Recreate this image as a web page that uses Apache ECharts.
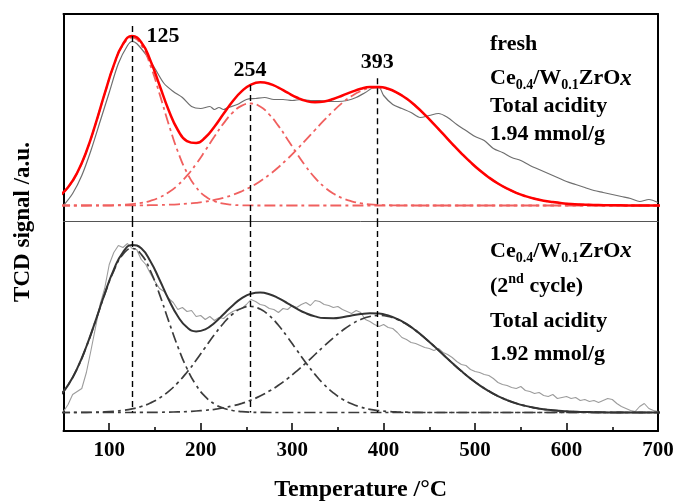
<!DOCTYPE html>
<html>
<head>
<meta charset="utf-8">
<script src="https://cdn.jsdelivr.net/npm/echarts@6/dist/echarts.min.js"></script>
<style>
  html, body { margin: 0; padding: 0; background: #fff; }
  #chart { width: 678px; height: 503px; }
</style>
</head>
<body>
<div id="chart"></div>
<script>
var serif = 'Liberation Serif';

/* fitted curves share one temperature grid (°C) */
var temps = [45, 55, 65, 75, 85, 95, 105, 115, 125, 135, 145, 155, 165, 175, 185, 195, 205, 215, 225,
  235, 245, 255, 265, 275, 285, 295, 305, 315, 325, 335, 345, 355, 365, 375, 385, 395, 405, 415, 425,
  435, 445, 455, 465, 475, 485, 495, 505, 515, 525, 535, 545, 555, 565, 575, 585, 595, 605, 615, 625,
  635, 645, 655, 665, 675, 685, 695, 705];

/* fresh catalyst: fit + three deconvoluted peaks */
var freshFit = [9.2, 18.2, 32.8, 54.0, 81.4, 111.8, 140.4, 161.3, 169.5, 163.3, 145.1, 120.3, 95.3,
  75.5, 64.4, 62.4, 68.0, 78.8, 91.7, 104.2, 114.4, 120.9, 123.2, 121.8, 117.9, 112.8, 108.0, 104.6,
  103.2, 104.0, 106.5, 110.0, 113.6, 116.7, 118.5, 118.6, 116.7, 112.7, 107.0, 99.5, 90.9, 81.4,
  71.6, 61.7, 52.2, 43.3, 35.2, 28.1, 22.0, 16.9, 12.7, 9.4, 6.8, 4.8, 3.4, 2.3, 1.5, 1.0, 0.7, 0.4,
  0.3, 0.2, 0.1, 0.1, 0, 0, 0];
var freshPeak1 = [9.2, 18.2, 32.8, 54.0, 81.3, 111.7, 140.1, 160.5, 168, 160.5, 140.1, 111.7, 81.3,
  54.0, 32.8, 18.2, 9.2, 4.3, 1.8, 0.7, 0.2, 0.1, 0, 0, 0, 0, 0, 0, 0, 0, 0, 0, 0, 0, 0, 0, 0, 0, 0,
  0, 0, 0, 0, 0, 0, 0, 0, 0, 0, 0, 0, 0, 0, 0, 0, 0, 0, 0, 0, 0, 0, 0, 0, 0, 0, 0, 0];
var freshPeak2 = [0, 0, 0, 0, 0.1, 0.1, 0.3, 0.7, 1.4, 2.6, 4.7, 8.1, 13.2, 20.3, 29.8, 41.5, 54.9,
  68.9, 82.1, 92.9, 99.9, 102.0, 98.9, 91.0, 79.6, 66.1, 52.1, 39.0, 27.7, 18.7, 12.0, 7.3, 4.2, 2.3,
  1.2, 0.6, 0.3, 0.1, 0.1, 0, 0, 0, 0, 0, 0, 0, 0, 0, 0, 0, 0, 0, 0, 0, 0, 0, 0, 0, 0, 0, 0, 0, 0, 0,
  0, 0, 0];
var freshPeak3 = [0, 0, 0, 0, 0, 0, 0, 0.1, 0.1, 0.2, 0.3, 0.5, 0.8, 1.2, 1.8, 2.7, 3.9, 5.6, 7.8,
  10.6, 14.3, 18.8, 24.3, 30.8, 38.3, 46.7, 55.9, 65.6, 75.5, 85.3, 94.5, 102.7, 109.4, 114.4, 117.3,
  118.0, 116.4, 112.6, 106.9, 99.5, 90.9, 81.4, 71.6, 61.7, 52.2, 43.3, 35.2, 28.1, 22.0, 16.9, 12.7,
  9.4, 6.8, 4.8, 3.4, 2.3, 1.5, 1.0, 0.7, 0.4, 0.3, 0.2, 0.1, 0.1, 0, 0, 0];

/* 2nd cycle: fit + three deconvoluted peaks */
var cycleFit = [15.8, 27.4, 44.1, 66.0, 91.7, 118.7, 142.9, 160.2, 167.6, 164.2, 151.3, 132.8, 113.0,
  96.2, 85.2, 81.1, 83.1, 89.5, 98.3, 107.1, 114.3, 118.7, 119.9, 118.3, 114.4, 109.2, 103.9, 99.3,
  96.1, 94.4, 94.3, 95.3, 97.0, 98.4, 99.2, 98.9, 97.0, 93.5, 88.6, 82.1, 74.6, 66.5, 58.0, 49.5,
  41.4, 33.9, 27.2, 21.4, 16.4, 12.4, 9.1, 6.6, 4.7, 3.2, 2.2, 1.5, 0.9, 0.6, 0.4, 0.2, 0.1, 0.1, 0,
  0, 0, 0, 0];
var cyclePeak1 = [15.8, 27.4, 44.0, 65.8, 91.4, 118.1, 141.7, 158.1, 164, 158.1, 141.7, 118.1, 91.4,
  65.8, 44.0, 27.4, 15.8, 8.5, 4.3, 2.0, 0.9, 0.3, 0.1, 0, 0, 0, 0, 0, 0, 0, 0, 0, 0, 0, 0, 0, 0, 0,
  0, 0, 0, 0, 0, 0, 0, 0, 0, 0, 0, 0, 0, 0, 0, 0, 0, 0, 0, 0, 0, 0, 0, 0, 0, 0, 0, 0, 0];
var cyclePeak2 = [0, 0, 0.1, 0.2, 0.3, 0.6, 1.2, 2.1, 3.6, 6.0, 9.5, 14.5, 21.2, 29.8, 40.3, 52.2,
  65.1, 77.8, 89.3, 98.5, 104.3, 106.0, 103.4, 96.9, 87.2, 75.3, 62.5, 49.8, 38.1, 27.9, 19.7, 13.3,
  8.7, 5.4, 3.2, 1.9, 1.0, 0.5, 0.3, 0.1, 0, 0, 0, 0, 0, 0, 0, 0, 0, 0, 0, 0, 0, 0, 0, 0, 0, 0, 0, 0,
  0, 0, 0, 0, 0, 0, 0];
var cyclePeak3 = [0, 0, 0, 0, 0, 0, 0, 0, 0, 0.1, 0.1, 0.2, 0.4, 0.6, 0.9, 1.5, 2.2, 3.2, 4.7, 6.6,
  9.1, 12.4, 16.4, 21.4, 27.2, 33.9, 41.4, 49.5, 58.0, 66.5, 74.6, 82.0, 88.3, 93.0, 96.0, 97.0, 96.0,
  93.0, 88.3, 82.0, 74.6, 66.5, 58.0, 49.5, 41.4, 33.9, 27.2, 21.4, 16.4, 12.4, 9.1, 6.6, 4.7, 3.2,
  2.2, 1.5, 0.9, 0.6, 0.4, 0.2, 0.1, 0.1, 0, 0, 0, 0, 0];

/* measured TCD signal, fresh */
var freshRawT = [50, 60, 70, 80, 90, 100, 110, 120, 125, 130, 140, 150, 160, 170, 180, 190, 200, 210,
  215, 220, 225, 230, 240, 250, 260, 270, 280, 290, 300, 310, 320, 330, 340, 350, 360, 370, 380, 390,
  395, 400, 410, 420, 430, 440, 450, 460, 470, 480, 490, 500, 510, 520, 530, 540, 550, 560, 570, 580,
  590, 600, 610, 620, 630, 640, 650, 660, 670, 680, 690, 700];
var freshRaw = [0, 12, 30, 55, 84, 113, 142, 160, 164, 162, 151, 137, 122, 114, 108, 99, 97, 99,
  96, 98, 96, 98, 101, 106, 107, 108, 106, 106, 105, 106, 105, 105, 104, 104, 105, 108, 113, 118,
  118, 110, 101, 97, 93, 88, 90, 92, 88, 81, 75, 69, 65, 57, 53, 48, 45, 40, 36, 32,
  28, 24, 21, 18, 15, 13, 11, 9, 7, 4, 6, 3];

/* measured TCD signal, 2nd cycle */
var cycleRawT = [50, 55, 60, 65, 70, 75, 80, 85, 90, 95, 100, 105, 110, 115, 120, 125, 130, 135, 140,
  145, 150, 155, 160, 165, 170, 175, 180, 185, 190, 195, 200, 205, 210, 215, 220, 225, 230, 235, 240,
  245, 250, 255, 260, 265, 270, 275, 280, 285, 290, 295, 300, 305, 310, 315, 320, 325, 330, 335, 340,
  345, 350, 355, 360, 365, 370, 375, 380, 385, 390, 395, 400, 405, 410, 415, 420, 425, 430, 435, 440,
  445, 450, 455, 460, 465, 470, 475, 480, 485, 490, 495, 500, 505, 510, 515, 520, 525, 530, 535, 540,
  545, 550, 555, 560, 565, 570, 575, 580, 585, 590, 595, 600, 605, 610, 615, 620, 625, 630, 635, 640,
  645, 650, 655, 660, 665, 670, 675, 680, 685, 690, 695, 700];
var cycleRaw = [1, 8, 18, 21, 24, 40, 62, 85, 108, 124,
  148, 160, 167, 165, 169, 164, 163, 153, 148, 139,
  131, 124, 121, 114, 110, 103, 105, 101, 102, 96,
  97, 93, 96, 92, 95, 94, 98, 101, 103, 104,
  108, 113, 111, 108, 107, 104, 103, 100, 104, 103,
  107, 105, 108, 110, 107, 112, 111, 108, 107, 105,
  106, 103, 101, 99, 102, 100, 93, 91, 88, 86,
  88, 85, 84, 80, 75, 73, 70, 69, 67, 65,
  64, 62, 64, 60, 58, 55, 51, 48, 47, 43,
  41, 40, 38, 37, 34, 30, 28, 27, 25, 24,
  26, 22, 21, 19, 20, 17, 16, 18, 14, 15,
  16, 14, 15, 12, 13, 11, 12, 10, 12, 14,
  13, 9, 6, 4, 2, 1, 6, 9, 4, 2,
  1];

var majorTicks = [100, 200, 300, 400, 500, 600, 700];
var minorTicks = [150, 250, 350, 450, 550, 650];

/* peak maxima marked by dashed lines */
var peakTemps = [125, 254, 393];
var peakNames = ['125', '254', '393'];
var peakLabelY = [169.5, 135, 143];
var peakLineTop = [179.5, 120.5, 127.2];

var topRange = [-15.5, 191.5];
var botRange = [-18.5, 191.5];

function pairs(xs, ys) {
  return xs.map(function (x, i) { return [x, ys[i]]; });
}

function curve(panel, xs, ys, color, width, dash, smooth) {
  return {
    type: 'line',
    xAxisIndex: panel === 0 ? 0 : 2,
    yAxisIndex: panel === 0 ? 0 : 2,
    data: pairs(xs, ys),
    symbol: 'none',
    smooth: smooth,
    silent: true,
    clip: true,
    lineStyle: { color: color, width: width, type: dash || 'solid' }
  };
}

function peakLines(panel) {
  return {
    silent: true,
    symbol: ['none', 'none'],
    label: { show: false },
    lineStyle: { color: '#000', width: 1.4, type: [6, 4] },
    data: peakTemps.map(function (t, i) {
      var y0 = panel === 0 ? peakLineTop[i] : botRange[1];
      var y1 = panel === 0 ? topRange[0] : 0;
      return [{ coord: [t, y0] }, { coord: [t, y1] }];
    })
  };
}

var dashDot = [11, 4, 3, 4];
var boldFont = { fontFamily: serif, fontWeight: 'bold', color: '#000' };

var freshFitSeries = curve(0, temps, freshFit, '#ff0000', 2.5, null, true);
freshFitSeries.markLine = peakLines(0);
freshFitSeries.markPoint = {
  silent: true,
  symbolSize: 0,
  label: { show: true, formatter: '{b}', fontFamily: serif, fontWeight: 'bold', fontSize: 22, color: '#000' },
  data: peakTemps.map(function (t, i) {
    return { name: peakNames[i], coord: [t, peakLabelY[i]], label: { offset: [i === 0 ? 31 : 0, 0] } };
  })
};
var cycleFitSeries = curve(1, temps, cycleFit, '#333333', 2, null, true);
cycleFitSeries.markLine = peakLines(1);

function hiddenAxis(grid, pos, lineW, lineColor) {
  return {
    type: 'value', gridIndex: grid, position: pos, min: 50, max: 700,
    axisLine: { show: lineW > 0, onZero: false, lineStyle: { color: lineColor, width: lineW } },
    axisTick: { show: false }, axisLabel: { show: false }, splitLine: { show: false }
  };
}
function sideAxis(grid, pos, range, show) {
  return {
    type: 'value', gridIndex: grid, position: pos, min: range[0], max: range[1], show: show,
    axisLine: { show: true, onZero: false, lineStyle: { color: '#000', width: 2 } },
    axisTick: { show: false }, axisLabel: { show: false }, splitLine: { show: false }
  };
}

var m = { fontFamily: serif, fontWeight: 'bold', fontSize: 22, lineHeight: 28, verticalAlign: 'middle', fill: '#000' };
var sub = { fontFamily: serif, fontWeight: 'bold', fontSize: 14, lineHeight: 14, verticalAlign: 'bottom', fill: '#000' };
var sup = { fontFamily: serif, fontWeight: 'bold', fontSize: 14, lineHeight: 14, verticalAlign: 'top', fill: '#000' };
var it = {
  font: 'italic bold 23px "Liberation Serif"', fontFamily: serif, fontWeight: 'bold', fontStyle: 'italic',
  fontSize: 23, lineHeight: 28, verticalAlign: 'middle', fill: '#000'
};
var formula = '{m|Ce}{s|0.4}{m|/W}{s|0.1}{m|ZrO}{i|x}';

function note(y, text) {
  return {
    type: 'text', x: 490, y: y, silent: true,
    style: { text: text, align: 'left', verticalAlign: 'middle', rich: { m: m, s: sub, p: sup, i: it } }
  };
}

var option = {
  animation: false,
  backgroundColor: '#fff',
  grid: [
    { left: 63.5, right: 20, top: 14, height: 207 },
    { left: 63.5, right: 20, top: 221, height: 210 },
    { left: 63.5, right: 20, top: 221, height: 210 }
  ],
  xAxis: [
    hiddenAxis(0, 'top', 2, '#000'),
    hiddenAxis(0, 'bottom', 1, '#555'),
    {
      type: 'value', gridIndex: 1, position: 'bottom', min: 50, max: 700,
      axisLine: { onZero: false, lineStyle: { color: '#000', width: 2 } },
      axisTick: { inside: true, length: 8, customValues: majorTicks, lineStyle: { color: '#000', width: 1.5 } },
      axisLabel: Object.assign({ customValues: majorTicks, margin: 9, fontSize: 21 }, boldFont),
      splitLine: { show: false },
      name: 'Temperature /°C', nameLocation: 'middle', nameGap: 47,
      nameTextStyle: Object.assign({ fontSize: 24 }, boldFont)
    },
    {
      type: 'value', gridIndex: 2, position: 'bottom', min: 50, max: 700,
      axisLine: { show: false, onZero: false },
      axisTick: { inside: true, length: 4, customValues: minorTicks, lineStyle: { color: '#000', width: 1.5 } },
      axisLabel: { show: false }, splitLine: { show: false }
    }
  ],
  yAxis: [
    sideAxis(0, 'left', topRange, true),
    sideAxis(0, 'right', topRange, true),
    sideAxis(1, 'left', botRange, true),
    sideAxis(1, 'right', botRange, true),
    sideAxis(2, 'left', botRange, false)
  ],
  series: [
    curve(0, freshRawT, freshRaw, '#6e6e6e', 1.2, null, 0.3),
    curve(0, temps, freshPeak1, '#f0605f', 1.8, dashDot, true),
    curve(0, temps, freshPeak2, '#f0605f', 1.8, dashDot, true),
    curve(0, temps, freshPeak3, '#f0605f', 1.8, dashDot, true),
    freshFitSeries,
    curve(1, cycleRawT, cycleRaw, '#9c9c9c', 1.1, null, false),
    curve(1, temps, cyclePeak1, '#3c3c3c', 1.7, dashDot, true),
    curve(1, temps, cyclePeak2, '#3c3c3c', 1.7, dashDot, true),
    curve(1, temps, cyclePeak3, '#3c3c3c', 1.7, dashDot, true),
    cycleFitSeries
  ],
  graphic: [
    {
      type: 'text', x: 23, y: 222, rotation: Math.PI / 2, silent: true,
      style: { text: 'TCD signal /a.u.', font: 'bold 23px "Liberation Serif"', fill: '#000', align: 'center', verticalAlign: 'middle' }
    },
    note(44.3, '{m|fresh}'),
    note(78.6, formula),
    note(105.9, '{m|Total acidity}'),
    note(134.3, '{m|1.94 mmol/g}'),
    note(250.9, formula),
    note(286.6, '{m|(2}{p|nd}{m| cycle)}'),
    note(321.6, '{m|Total acidity}'),
    note(354.3, '{m|1.92 mmol/g}')
  ]
};

var chart = echarts.init(document.getElementById('chart'));
chart.setOption(option);
</script>
</body>
</html>
